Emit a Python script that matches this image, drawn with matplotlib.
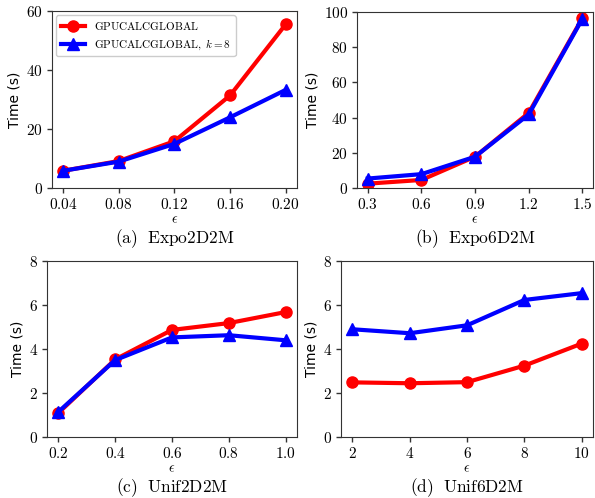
import matplotlib
matplotlib.use("Agg")
import matplotlib.pyplot as plt

plt.rcParams['mathtext.fontset'] = 'cm'
plt.rcParams['font.family'] = 'DejaVu Sans'

# data
eps_a = [0.04, 0.08, 0.12, 0.16, 0.20]
red_a = [5.9, 9.2, 15.9, 31.4, 55.5]
blue_a = [5.9, 9.0, 15.0, 24.0, 33.3]

eps_b = [0.3, 0.6, 0.9, 1.2, 1.5]
red_b = [2.6, 4.7, 17.9, 42.8, 96.6]
blue_b = [5.5, 8.0, 17.9, 41.9, 96.2]

eps_c = [0.2, 0.4, 0.6, 0.8, 1.0]
red_c = [1.1, 3.53, 4.87, 5.18, 5.68]
blue_c = [1.15, 3.5, 4.53, 4.63, 4.4]

eps_d = [2, 4, 6, 8, 10]
red_d = [2.49, 2.45, 2.50, 3.25, 4.25]
blue_d = [4.9, 4.72, 5.08, 6.23, 6.54]

captions = ['(a)  Expo2D2M', '(b)  Expo6D2M', '(c)  Unif2D2M', '(d)  Unif6D2M']
xticks = [['0.04', '0.08', '0.12', '0.16', '0.20'],
          ['0.3', '0.6', '0.9', '1.2', '1.5'],
          ['0.2', '0.4', '0.6', '0.8', '1.0'],
          ['2', '4', '6', '8', '10']]
yticks = [[0, 20, 40, 60], [0, 20, 40, 60, 80, 100], [0, 2, 4, 6, 8], [0, 2, 4, 6, 8]]
ylims = [(0, 60), (0, 100), (0, 8), (0, 8)]
legend_labels = [r'$\mathrm{GPUCALCGLOBAL}$', r'$\mathrm{GPUCALCGLOBAL},\ k=8$']

panels = [(eps_a, red_a, blue_a), (eps_b, red_b, blue_b),
          (eps_c, red_c, blue_c), (eps_d, red_d, blue_d)]
rects = [[0.087, 0.622, 0.412, 0.356],
         [0.600, 0.622, 0.397, 0.354],
         [0.079, 0.122, 0.420, 0.354],
         [0.573, 0.122, 0.424, 0.354]]

fig = plt.figure(figsize=(5.95, 4.98), dpi=100)

for i, (x, r, b) in enumerate(panels):
    ax = fig.add_axes(rects[i])
    ax.plot(x, r, color='#ff0000', marker='o', lw=3, ms=8, label=legend_labels[0])
    ax.plot(x, b, color='#0000ff', marker='^', lw=3, ms=8, label=legend_labels[1])
    ax.set_ylim(*ylims[i])
    ax.set_yticks(yticks[i])
    ax.set_yticklabels(['$%d$' % v for v in yticks[i]], fontsize=11)
    ax.set_xticks(x)
    ax.set_xticklabels(['$%s$' % t for t in xticks[i]], fontsize=11)
    ax.set_ylabel('Time (s)', fontsize=10, labelpad=3)
    ax.set_xlabel(r'$\epsilon$', fontsize=10, labelpad=0)
    ax.tick_params(length=3.5, width=1, color='#333333', pad=3)
    for s in ax.spines.values():
        s.set_color('#333333')
    ax.text(0.5, -0.22, r'$\mathrm{%s}$' % captions[i].replace(' ', r'\ '),
            transform=ax.transAxes, ha='center', va='top', fontsize=12.5)
    if i == 0:
        ax.legend(loc='upper left', fontsize=8, handlelength=2.2,
                  borderaxespad=0.4, framealpha=1, edgecolor='#cccccc')

fig.savefig('out.png', dpi=100)
